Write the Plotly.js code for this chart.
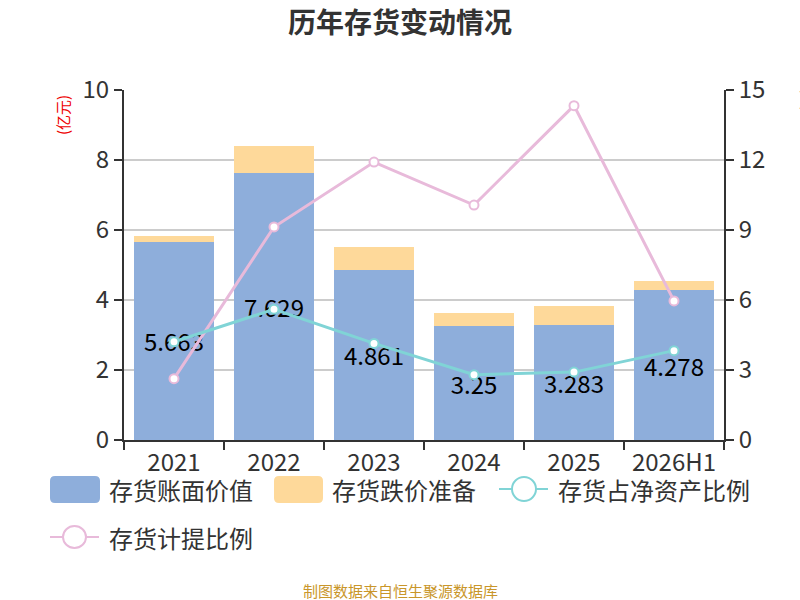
<!DOCTYPE html>
<html>
<head>
<meta charset="utf-8">
<script src="https://cdn.plot.ly/plotly-3.0.1.min.js"></script>
<style>html,body{margin:0;padding:0;background:#fff;}#chart{width:800px;height:600px;}</style>
</head>
<body>
<div id="chart"></div>
<script>
var categories = ["2021", "2022", "2023", "2024", "2025", "2026H1"];
var bookValue = [5.663, 7.629, 4.861, 3.25, 3.283, 4.278];
var impairmentReserve = [0.17, 0.77, 0.65, 0.38, 0.55, 0.26];
var inventoryToNetAssets = [4.21, 5.6, 4.14, 2.8, 2.91, 3.83];
var provisionRatio = [2.63, 9.13, 11.91, 10.07, 14.33, 5.96];
var bookLabels = ["5.663", "7.629", "4.861", "3.25", "3.283", "4.278"];

var FONT = "Noto Sans CJK SC, Noto Sans, sans-serif";
var BLUE = "#8eaedb", ORANGE = "#fed99a", TEAL = "#80d4d6", PINK = "#e8bada";

// plot-area pixel helpers for legend decoration
var L = 124, R = 724, T = 90, B = 440;
function px(x) { return (x - L) / (R - L); }
function py(y) { return (B - y) / (B - T); }
function roundRect(x0, y0, x1, y1, r) {
  var a = px(x0), b = px(x1), c = py(y0), d = py(y1);
  var rx = r / (R - L), ry = r / (B - T);
  return "M" + (a + rx) + "," + c + " L" + (b - rx) + "," + c + " Q" + b + "," + c + " " + b + "," + (c - ry) +
    " L" + b + "," + (d + ry) + " Q" + b + "," + d + " " + (b - rx) + "," + d +
    " L" + (a + rx) + "," + d + " Q" + a + "," + d + " " + a + "," + (d + ry) +
    " L" + a + "," + (c - ry) + " Q" + a + "," + c + " " + (a + rx) + "," + c + " Z";
}

var traces = [
  {
    type: "bar", name: "存货账面价值", x: categories, y: bookValue,
    marker: {color: BLUE}, text: bookLabels, textposition: "inside",
    insidetextanchor: "middle", constraintext: "none",
    textfont: {family: FONT, size: 24, color: "#000"}, hoverinfo: "x+y"
  },
  {
    type: "bar", name: "存货跌价准备", x: categories, y: impairmentReserve,
    marker: {color: ORANGE}, hoverinfo: "x+y"
  },
  {
    type: "scatter", mode: "lines+markers", name: "存货计提比例", x: categories, y: provisionRatio,
    yaxis: "y2", line: {color: PINK, width: 3},
    marker: {symbol: "circle", size: 9, color: "#fff", line: {color: PINK, width: 2}}
  },
  {
    type: "scatter", mode: "lines+markers", name: "存货占净资产比例", x: categories, y: inventoryToNetAssets,
    yaxis: "y2", line: {color: TEAL, width: 3},
    marker: {symbol: "circle", size: 9, color: "#fff", line: {color: TEAL, width: 2}}
  }
];

var shapes = [
  {type: "path", xref: "paper", yref: "paper", path: roundRect(50, 476, 100, 503, 5), fillcolor: BLUE, line: {width: 0}},
  {type: "path", xref: "paper", yref: "paper", path: roundRect(274, 476, 323, 503, 5), fillcolor: ORANGE, line: {width: 0}},
  {type: "line", xref: "paper", yref: "paper", x0: px(499), x1: px(548), y0: py(489), y1: py(489), line: {color: TEAL, width: 2}},
  {type: "circle", xref: "paper", yref: "paper", x0: px(512), x1: px(536), y0: py(477), y1: py(501), fillcolor: "#fff", line: {color: TEAL, width: 2}},
  {type: "line", xref: "paper", yref: "paper", x0: px(50), x1: px(99), y0: py(537), y1: py(537), line: {color: PINK, width: 2}},
  {type: "circle", xref: "paper", yref: "paper", x0: px(63), x1: px(86), y0: py(526), y1: py(548), fillcolor: "#fff", line: {color: PINK, width: 2}}
];

function legendText(t, x, y) {
  return {text: t, xref: "paper", yref: "paper", x: px(x), y: py(y), xanchor: "left", yanchor: "middle",
    showarrow: false, font: {family: FONT, size: 24, color: "#333"}};
}

var annotations = [
  legendText("存货账面价值", 107, 489),
  legendText("存货跌价准备", 330, 489),
  legendText("存货占净资产比例", 556, 489),
  legendText("存货计提比例", 107, 537),
  {text: "(亿元)", xref: "paper", yref: "paper", x: px(63), y: py(115), textangle: -90, showarrow: false,
    xanchor: "center", yanchor: "middle", font: {family: FONT, size: 15, color: "#e00"}},
  {text: "(%)", xref: "paper", yref: "paper", x: px(805), y: py(100), textangle: -90, showarrow: false,
    xanchor: "center", yanchor: "middle", font: {family: FONT, size: 15, color: "#e00"}},
  {text: "制图数据来自恒生聚源数据库", xref: "paper", yref: "paper", x: px(400), y: py(590), showarrow: false,
    xanchor: "center", yanchor: "middle", font: {family: FONT, size: 15, color: "#c9962a"}}
];

var layout = {
  width: 800, height: 600,
  margin: {l: L, r: 800 - R, t: T, b: 600 - B, pad: 0},
  paper_bgcolor: "#fff", plot_bgcolor: "#fff",
  barmode: "stack", bargap: 0.2,
  showlegend: false,
  font: {family: FONT, color: "#333"},
  title: {text: "<b>历年存货变动情况</b>", x: 0.5, xanchor: "center", y: 1 - 23 / 600, yanchor: "middle",
    font: {family: FONT, size: 28, color: "#333"}},
  xaxis: {
    type: "category", showline: true, linecolor: "#333", linewidth: 2,
    ticks: "outside", tickson: "boundaries", ticklen: 8, tickwidth: 2, tickcolor: "#333",
    tickfont: {family: FONT, size: 24, color: "#333"}, showgrid: false, zeroline: false, fixedrange: true
  },
  yaxis: {
    range: [0, 10], dtick: 2, showline: true, linecolor: "#333", linewidth: 2,
    ticks: "outside", ticklen: 8, tickwidth: 2, tickcolor: "#333",
    tickfont: {family: FONT, size: 24, color: "#333"},
    showgrid: true, gridcolor: "#cccccc", gridwidth: 1.5, zeroline: false
  },
  yaxis2: {
    range: [0, 15], dtick: 3, overlaying: "y", side: "right", showline: true, linecolor: "#333", linewidth: 2,
    ticks: "outside", ticklen: 8, tickwidth: 2, tickcolor: "#333",
    tickfont: {family: FONT, size: 24, color: "#333"},
    showgrid: false, zeroline: false
  },
  shapes: shapes,
  annotations: annotations
};

Plotly.newPlot("chart", traces, layout, {displayModeBar: false, staticPlot: true});
</script>
</body>
</html>
